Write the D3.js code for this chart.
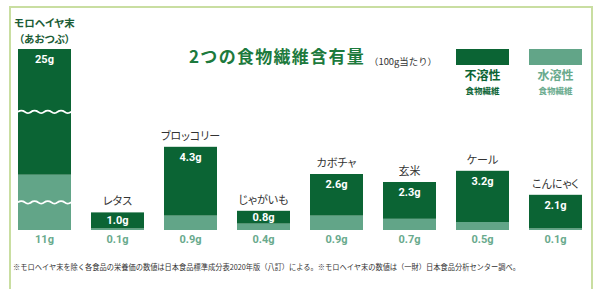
<!DOCTYPE html>
<html>
<head>
<meta charset="utf-8">
<script src="https://cdn.jsdelivr.net/npm/d3@7"></script>
<style>
body { margin: 0; background: #fff; }
svg { display: block; font-family: "Noto Sans CJK JP", sans-serif; }
.num { font-family: Roboto, "Liberation Sans", sans-serif; font-weight: 700; }
.jp { font-feature-settings: "palt"; }
</style>
</head>
<body>
<script>
// data, grams per 100g
const foods = ["モロヘイヤ末", "レタス", "ブロッコリー", "じゃがいも", "カボチャ", "玄米", "ケール", "こんにゃく"];
const insoluble = [25, 1.0, 4.3, 0.8, 2.6, 2.3, 3.2, 2.1];
const soluble = [11, 0.1, 0.9, 0.4, 0.9, 0.7, 0.5, 0.1];
const insolubleLabels = ["25g", "1.0g", "4.3g", "0.8g", "2.6g", "2.3g", "3.2g", "2.1g"];
const solubleLabels = ["11g", "0.1g", "0.9g", "0.4g", "0.9g", "0.7g", "0.5g", "0.1g"];
// the first bar is drawn squeezed, with wavy cuts
const brokenFood = "モロヘイヤ末";
const brokenName = ["モロヘイヤ末", "（あおつぶ）"];

const title = "2つの食物繊維含有量";
const unitNote = "（100g当たり）";
const legendNames = [["不溶性", "食物繊維"], ["水溶性", "食物繊維"]];
const footnote = "※モロヘイヤ末を除く各食品の栄養価の数値は日本食品標準成分表2020年版（八訂）による。※モロヘイヤ末の数値は（一財）日本食品分析センター調べ。";

const W = 593, H = 289;
const dark = "#0b6434", light = "#62a588", lightText = "#69aa8d", titleGreen = "#1d7a3d";

const rows = foods.map((f, i) => ({ food: f, ins: insoluble[i], sol: soluble[i], insLabel: insolubleLabels[i], solLabel: solubleLabels[i] }));

const svg = d3.select("body").append("svg")
    .attr("width", W)
    .attr("height", H);

// frame
svg.append("path")
    .attr("d", `M10,${H} V7 H592 V${H}`)
    .attr("fill", "none")
    .attr("stroke", "#c9dea1")
    .attr("stroke-width", 2);

const x = d3.scaleBand()
    .domain(foods)
    .range([18, 582])
    .paddingInner(0.274)
    .paddingOuter(0);
const y = d3.scaleLinear().domain([0, 10]).range([230, 70]);
const yBroken = d3.scaleLinear().domain([0, 36]).range([230, 49]);
const yFor = d => d.food === brokenFood ? yBroken : y;

const bars = svg.append("g")
    .selectAll("g")
    .data(rows)
    .join("g");

bars.append("rect")
    .attr("x", d => x(d.food))
    .attr("y", d => yFor(d)(d.sol))
    .attr("width", x.bandwidth())
    .attr("height", d => yFor(d)(0) - yFor(d)(d.sol))
    .attr("fill", light);

bars.append("rect")
    .attr("x", d => x(d.food))
    .attr("y", d => yFor(d)(d.sol + d.ins))
    .attr("width", x.bandwidth())
    .attr("height", d => yFor(d)(d.sol) - yFor(d)(d.sol + d.ins))
    .attr("fill", dark);

// wavy cuts in the middle of each segment of the squeezed bar
const wave = (x0, w, yc) => d3.line().curve(d3.curveBasis)(
    d3.range(0, 33).map(k => [x0 + k * w / 32, yc - 1.4 * Math.sin(k / 8 * 2 * Math.PI)])
);
const b = rows.find(d => d.food === brokenFood);
[(yBroken(0) + yBroken(b.sol)) / 2, (yBroken(b.sol) + yBroken(b.sol + b.ins)) / 2].forEach(yc => {
    svg.append("path")
        .attr("d", wave(x(brokenFood), x.bandwidth(), yc))
        .attr("fill", "none")
        .attr("stroke", "#fff")
        .attr("stroke-width", 1.8);
});

// insoluble value inside the dark segment
bars.append("text")
    .attr("class", "num")
    .attr("x", d => x(d.food) + x.bandwidth() / 2)
    .attr("y", d => {
        const top = yFor(d)(d.sol + d.ins), mid = (top + yFor(d)(d.sol)) / 2;
        return Math.min(top + 10, mid);
    })
    .attr("dy", "0.36em")
    .attr("text-anchor", "middle")
    .attr("font-size", 11)
    .attr("fill", "#fff")
    .text(d => d.insLabel);

// soluble value under the baseline
bars.append("text")
    .attr("class", "num")
    .attr("x", d => x(d.food) + x.bandwidth() / 2)
    .attr("y", y(0) + 9)
    .attr("dy", "0.36em")
    .attr("text-anchor", "middle")
    .attr("font-size", 11)
    .attr("fill", lightText)
    .text(d => d.solLabel);

// category names above the bars
bars.filter(d => d.food !== brokenFood)
    .append("text")
    .attr("class", "jp")
    .attr("x", d => x(d.food) + x.bandwidth() / 2)
    .attr("y", d => yFor(d)(d.sol + d.ins) - 11)
    .attr("dy", "0.36em")
    .attr("text-anchor", "middle")
    .attr("font-size", 11)
    .attr("fill", "#333")
    .text(d => d.food);

svg.append("g")
    .selectAll("text")
    .data(brokenName)
    .join("text")
    .attr("class", "jp")
    .attr("x", x(brokenFood) + x.bandwidth() / 2)
    .attr("y", (d, i) => 23 + i * 16)
    .attr("dy", "0.36em")
    .attr("text-anchor", "middle")
    .attr("font-size", 10.5)
    .attr("font-weight", 700)
    .attr("fill", "#1b5c36")
    .text(d => d);

// title
svg.append("text")
    .attr("x", 189)
    .attr("y", 57)
    .attr("dy", "0.36em")
    .attr("font-size", 17)
    .attr("font-weight", 700)
    .attr("letter-spacing", 1.3)
    .attr("fill", titleGreen)
    .text(title);
svg.append("text")
    .attr("x", 369)
    .attr("y", 62)
    .attr("dy", "0.36em")
    .attr("font-size", 9)
    .attr("fill", "#333")
    .attr("textLength", 68)
    .attr("lengthAdjust", "spacingAndGlyphs")
    .text(unitNote);

// legend, lined up with the last two columns
const legend = svg.append("g")
    .selectAll("g")
    .data(legendNames.map((n, i) => ({ names: n, color: i ? light : dark, text: i ? lightText : dark, col: foods[6 + i] })))
    .join("g")
    .attr("transform", d => `translate(${x(d.col)},0)`);
legend.append("rect")
    .attr("y", 49)
    .attr("width", x.bandwidth())
    .attr("height", 16)
    .attr("fill", d => d.color);
legend.append("text")
    .attr("x", x.bandwidth() / 2)
    .attr("y", 75.5)
    .attr("dy", "0.36em")
    .attr("text-anchor", "middle")
    .attr("font-size", 12)
    .attr("font-weight", 700)
    .attr("fill", d => d.text)
    .text(d => d.names[0]);
legend.append("text")
    .attr("x", x.bandwidth() / 2)
    .attr("y", 90.5)
    .attr("dy", "0.36em")
    .attr("text-anchor", "middle")
    .attr("font-size", 8.5)
    .attr("font-weight", 700)
    .attr("fill", d => d.text)
    .text(d => d.names[1]);

// source note
svg.append("text")
    .attr("x", 13)
    .attr("y", 267)
    .attr("dy", "0.36em")
    .attr("font-size", 7.5)
    .attr("fill", "#333")
    .attr("textLength", 507)
    .attr("lengthAdjust", "spacingAndGlyphs")
    .text(footnote);
</script>
</body>
</html>
